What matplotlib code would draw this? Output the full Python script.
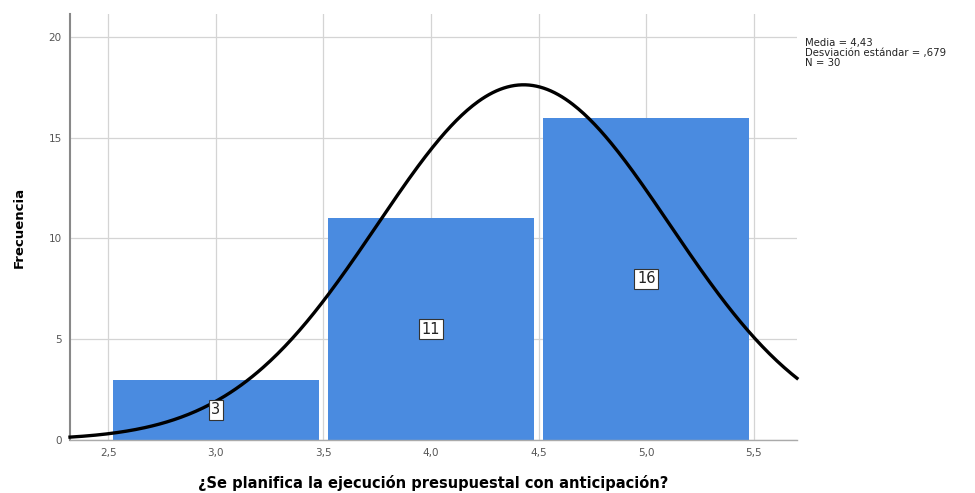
import numpy as np
import matplotlib
matplotlib.use("Agg")
import matplotlib.pyplot as plt

# Response values (Likert) and their frequencies
categorias = [3.0, 4.0, 5.0]
frecuencias = [3, 11, 16]
media = 4.43
desv = 0.679
n = 30

xticks = [2.5, 3.0, 3.5, 4.0, 4.5, 5.0, 5.5]
xtick_labels = ["2,5", "3,0", "3,5", "4,0", "4,5", "5,0", "5,5"]
yticks = [0, 5, 10, 15, 20]

fig = plt.figure(figsize=(9.75, 4.93), dpi=100)
ax = fig.add_axes([0.0718, 0.1075, 0.7456, 0.8641])

ax.set_xlim(2.323, 5.70)
ax.set_ylim(0, 21.14)

ax.set_axisbelow(True)
ax.grid(True, color="#d4d4d4", linewidth=0.9)

ax.bar(categorias, frecuencias, width=0.955, color="#4a8be0",
       linewidth=0, zorder=2)

# Normal curve scaled to counts (bin width 1)
xs = np.linspace(2.323, 5.70, 400)
ys = n * 1.0 * np.exp(-0.5 * ((xs - media) / desv) ** 2) / (desv * np.sqrt(2 * np.pi))
ax.plot(xs, ys, color="black", linewidth=2.4, zorder=4, clip_on=False)

for c, f in zip(categorias, frecuencias):
    ax.text(c, f / 2, str(f), ha="center", va="center", fontsize=10.5,
            color="#222222", zorder=5,
            bbox=dict(boxstyle="square,pad=0.18", facecolor="white",
                      edgecolor="#333333", linewidth=0.8))

ax.set_xticks(xticks)
ax.set_xticklabels(xtick_labels)
ax.set_yticks(yticks)
ax.tick_params(axis="both", length=0, labelsize=7.5, labelcolor="#555555", pad=6)

for s in ["top", "right"]:
    ax.spines[s].set_visible(False)
ax.spines["left"].set_color("#888888")
ax.spines["left"].set_linewidth(1.5)
ax.spines["bottom"].set_color("#aaaaaa")
ax.spines["bottom"].set_linewidth(1.0)

ax.set_ylabel("Frecuencia", fontsize=9.5, fontweight="bold", labelpad=16)
ax.set_xlabel("¿Se planifica la ejecución presupuestal con anticipación?",
              fontsize=10.5, fontweight="bold", labelpad=12)

fig.text(0.8257, 0.922,
         "Media = 4,43\nDesviación estándar = ,679\nN = 30",
         fontsize=7.3, va="top", ha="left", color="#222222", linespacing=0.95)

fig.savefig("out.png", dpi=100)
